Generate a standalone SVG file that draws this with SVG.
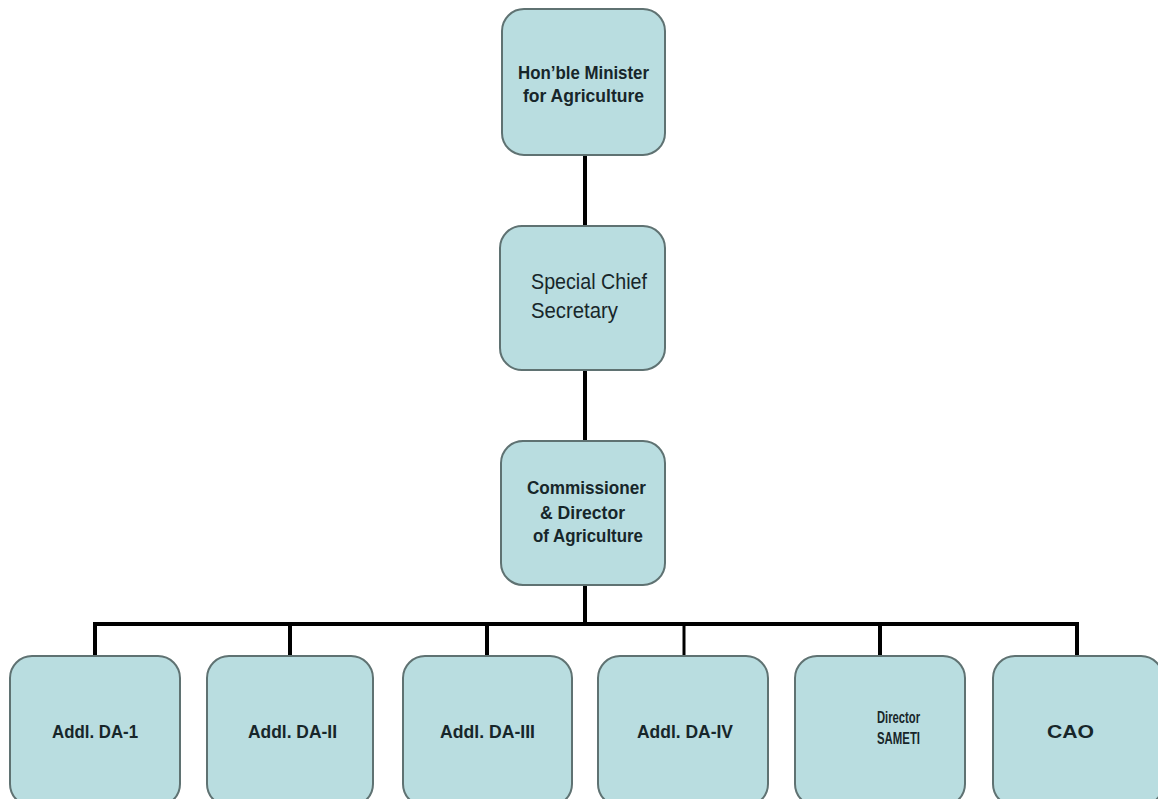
<svg xmlns="http://www.w3.org/2000/svg" width="1158" height="799" viewBox="0 0 1158 799">
<style>
.box{fill:#b9dde0;stroke:#5f7272;stroke-width:2}
.t{font-family:"Liberation Sans",Arial,sans-serif;font-weight:bold;fill:#17262a;font-size:19px}
.s{font-family:"Liberation Sans",Arial,sans-serif;fill:#17262a;font-size:22px}
.c{fill:none;stroke:#000;stroke-width:4}
</style>
<rect width="1158" height="799" fill="#fff"/>
<g id="connectors">
<line class="c" x1="585" y1="155" x2="585" y2="226"/>
<line class="c" x1="585" y1="370" x2="585" y2="441"/>
<line class="c" x1="585" y1="585" x2="585" y2="624"/>
<polyline class="c" points="95,656 95,624 1077,624 1077,656"/>
<line class="c" x1="290" y1="624" x2="290" y2="656"/>
<line class="c" x1="487" y1="624" x2="487" y2="656"/>
<line class="c" x1="684" y1="624" x2="684" y2="656" style="stroke-width:3"/>
<line class="c" x1="880" y1="624" x2="880" y2="656"/>
</g>
<g id="minister">
<rect class="box" x="502" y="9" width="163" height="146" rx="22"/>
<text class="t" x="518" y="79" textLength="131" lengthAdjust="spacingAndGlyphs">Hon’ble Minister</text>
<text class="t" x="523" y="102" textLength="121" lengthAdjust="spacingAndGlyphs">for Agriculture</text>
</g>
<g id="secretary">
<rect class="box" x="500" y="226" width="165" height="144" rx="22"/>
<text class="s" x="531" y="289" textLength="116" lengthAdjust="spacingAndGlyphs">Special Chief</text>
<text class="s" x="531" y="318" textLength="87" lengthAdjust="spacingAndGlyphs">Secretary</text>
</g>
<g id="commissioner">
<rect class="box" x="501" y="441" width="164" height="144" rx="22"/>
<text class="t" x="527" y="494" textLength="119" lengthAdjust="spacingAndGlyphs">Commissioner</text>
<text class="t" x="540" y="519" textLength="85" lengthAdjust="spacingAndGlyphs">&amp; Director</text>
<text class="t" x="533" y="542" textLength="110" lengthAdjust="spacingAndGlyphs">of Agriculture</text>
</g>
<g id="da1">
<rect class="box" x="10" y="656" width="170" height="150" rx="22"/>
<text class="t" x="52" y="738" textLength="86" lengthAdjust="spacingAndGlyphs">Addl. DA-1</text>
</g>
<g id="da2">
<rect class="box" x="207" y="656" width="166" height="150" rx="22"/>
<text class="t" x="248" y="738" textLength="89" lengthAdjust="spacingAndGlyphs">Addl. DA-II</text>
</g>
<g id="da3">
<rect class="box" x="403" y="656" width="169" height="150" rx="22"/>
<text class="t" x="440" y="738" textLength="95" lengthAdjust="spacingAndGlyphs">Addl. DA-III</text>
</g>
<g id="da4">
<rect class="box" x="598" y="656" width="170" height="150" rx="22"/>
<text class="t" x="637" y="738" textLength="96" lengthAdjust="spacingAndGlyphs">Addl. DA-IV</text>
</g>
<g id="sameti">
<rect class="box" x="795" y="656" width="170" height="150" rx="22"/>
<text class="t" x="877" y="723" textLength="43" lengthAdjust="spacingAndGlyphs" style="font-size:16px">Director</text>
<text class="t" x="877" y="744" textLength="43" lengthAdjust="spacingAndGlyphs" style="font-size:17px">SAMETI</text>
</g>
<g id="cao">
<rect class="box" x="993" y="656" width="170" height="150" rx="22"/>
<text class="t" x="1047" y="738" textLength="47" lengthAdjust="spacingAndGlyphs">CAO</text>
</g>
</svg>
